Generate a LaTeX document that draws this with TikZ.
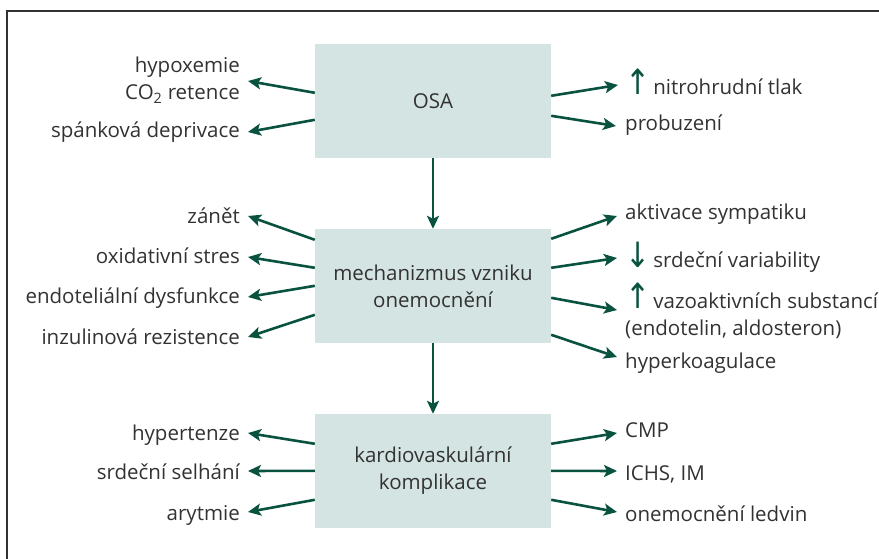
\documentclass[tikz,border=0pt]{standalone}
\usepackage{fontspec}
\setmainfont{Open Sans}
\newfontfamily\arrfont{DejaVu Sans}
\usetikzlibrary{arrows.meta,calc}
\definecolor{arrgreen}{RGB}{10,82,64}
\definecolor{boxfill}{RGB}{212,228,226}
\definecolor{txtc}{RGB}{50,50,50}
\newcommand{\upar}{{\color{arrgreen}\fontsize{24}{24}\selectfont\arrfont\scalebox{1.25}[1.45]{↑}}\kern3pt}
\newcommand{\downar}{{\color{arrgreen}\fontsize{24}{24}\selectfont\arrfont\scalebox{1.25}[1.45]{↓}}\kern3pt}
\begin{document}
\begin{tikzpicture}[x=1pt,y=-1pt,
  font=\fontsize{20.5}{27}\selectfont,
  mainbox/.style={fill=boxfill, minimum width=236pt, minimum height=114pt, inner sep=0pt, text=txtc, align=center},
  llab/.style={text=txtc, inner sep=0pt, anchor=base east, align=right},
  rlab/.style={text=txtc, inner sep=0pt, anchor=base west, align=left},
  arr/.style={draw=arrgreen, line width=2.6pt, -{Stealth[length=13pt,width=12pt,inset=3pt]}}]
\useasboundingbox (0,0) rectangle (879,559);
\draw[txtc, line width=1.3pt] (7,559) -- (7,11) -- (879,11);

% boxes
\node[mainbox] (osa) at (433,101) {OSA};
\node[mainbox] (mech) at (433,286) {mechanizmus vzniku\\onemocnění};
\node[mainbox] (kard) at (433,471) {kardiovaskulární\\komplikace};

% left labels
\node[llab] (hyp) at (240,100) {hypoxemie\\CO\textsubscript{2} retence};
\node[llab] (span) at (240,138) {spánková deprivace};
\node[llab] (zan) at (240,223) {zánět};
\node[llab] (oxi) at (240,263) {oxidativní stres};
\node[llab] (endo) at (240,303) {endoteliální dysfunkce};
\node[llab] (inz) at (240,344) {inzulinová rezistence};
\node[llab] (hyper) at (240,440) {hypertenze};
\node[llab] (srdsel) at (240,479) {srdeční selhání};
\node[llab] (aryt) at (240,520) {arytmie};

% right labels
\node[rlab] (nitro) at (625,95) {\upar nitrohrudní tlak};
\node[rlab] (prob) at (625,131) {probuzení};
\node[rlab] (akt) at (625,220) {aktivace sympatiku};
\node[rlab] (var) at (625,267) {\downar srdeční variability};
\node[rlab] (vazo) at (625,335) {\upar vazoaktivních substancí\\(endotelin, aldosteron)};
\node[rlab] (hkoag) at (625,368) {hyperkoagulace};
\node[rlab] (cmp) at (625,437) {CMP};
\node[rlab] (ichs) at (625,480) {ICHS, IM};
\node[rlab] (ledv) at (625,521) {onemocnění ledvin};

% arrow tips
\coordinate (tHyp) at (248,81);
\coordinate (tSpan) at (248,132);
\coordinate (tZan) at (248,216);
\coordinate (tOxi) at (248,257);
\coordinate (tEndo) at (248,297);
\coordinate (tInz) at (248,337);
\coordinate (tHyper) at (248,433);
\coordinate (tSrd) at (248,471);
\coordinate (tAryt) at (248,512);
\coordinate (tNitro) at (618,85);
\coordinate (tProb) at (616,126);
\coordinate (tAkt) at (617,216);
\coordinate (tVar) at (617,258);
\coordinate (tVazo) at (617,310);
\coordinate (tKoag) at (617,357);
\coordinate (tCmp) at (617,433);
\coordinate (tIchs) at (617,471);
\coordinate (tLedv) at (617,512);

% vertical
\draw[arr] (osa.south) -- (mech.north);
\draw[arr] (mech.south) -- (kard.north);

% OSA arrows
\draw[arr] ($(osa.north west)+(0,49)$) -- (tHyp);
\draw[arr] ($(osa.north west)+(0,76)$) -- (tSpan);
\draw[arr] ($(osa.north east)+(0,52)$) -- (tNitro);
\draw[arr] ($(osa.north east)+(0,72)$) -- (tProb);

% mech arrows
\draw[arr] ($(mech.north west)+(0,11)$) -- (tZan);
\draw[arr] ($(mech.north west)+(0,39)$) -- (tOxi);
\draw[arr] ($(mech.north west)+(0,57)$) -- (tEndo);
\draw[arr] ($(mech.north west)+(0,86)$) -- (tInz);
\draw[arr] ($(mech.north east)+(0,10)$) -- (tAkt);
\draw[arr] ($(mech.north east)+(0,39)$) -- (tVar);
\draw[arr] ($(mech.north east)+(0,69)$) -- (tVazo);
\draw[arr] ($(mech.north east)+(0,106)$) -- (tKoag);

% kard arrows
\draw[arr] ($(kard.north west)+(0,30)$) -- (tHyper);
\draw[arr] ($(kard.north west)+(0,57)$) -- (tSrd);
\draw[arr] ($(kard.north west)+(0,86)$) -- (tAryt);
\draw[arr] ($(kard.north east)+(0,30)$) -- (tCmp);
\draw[arr] ($(kard.north east)+(0,57)$) -- (tIchs);
\draw[arr] ($(kard.north east)+(0,86)$) -- (tLedv);
\end{tikzpicture}
\end{document}
